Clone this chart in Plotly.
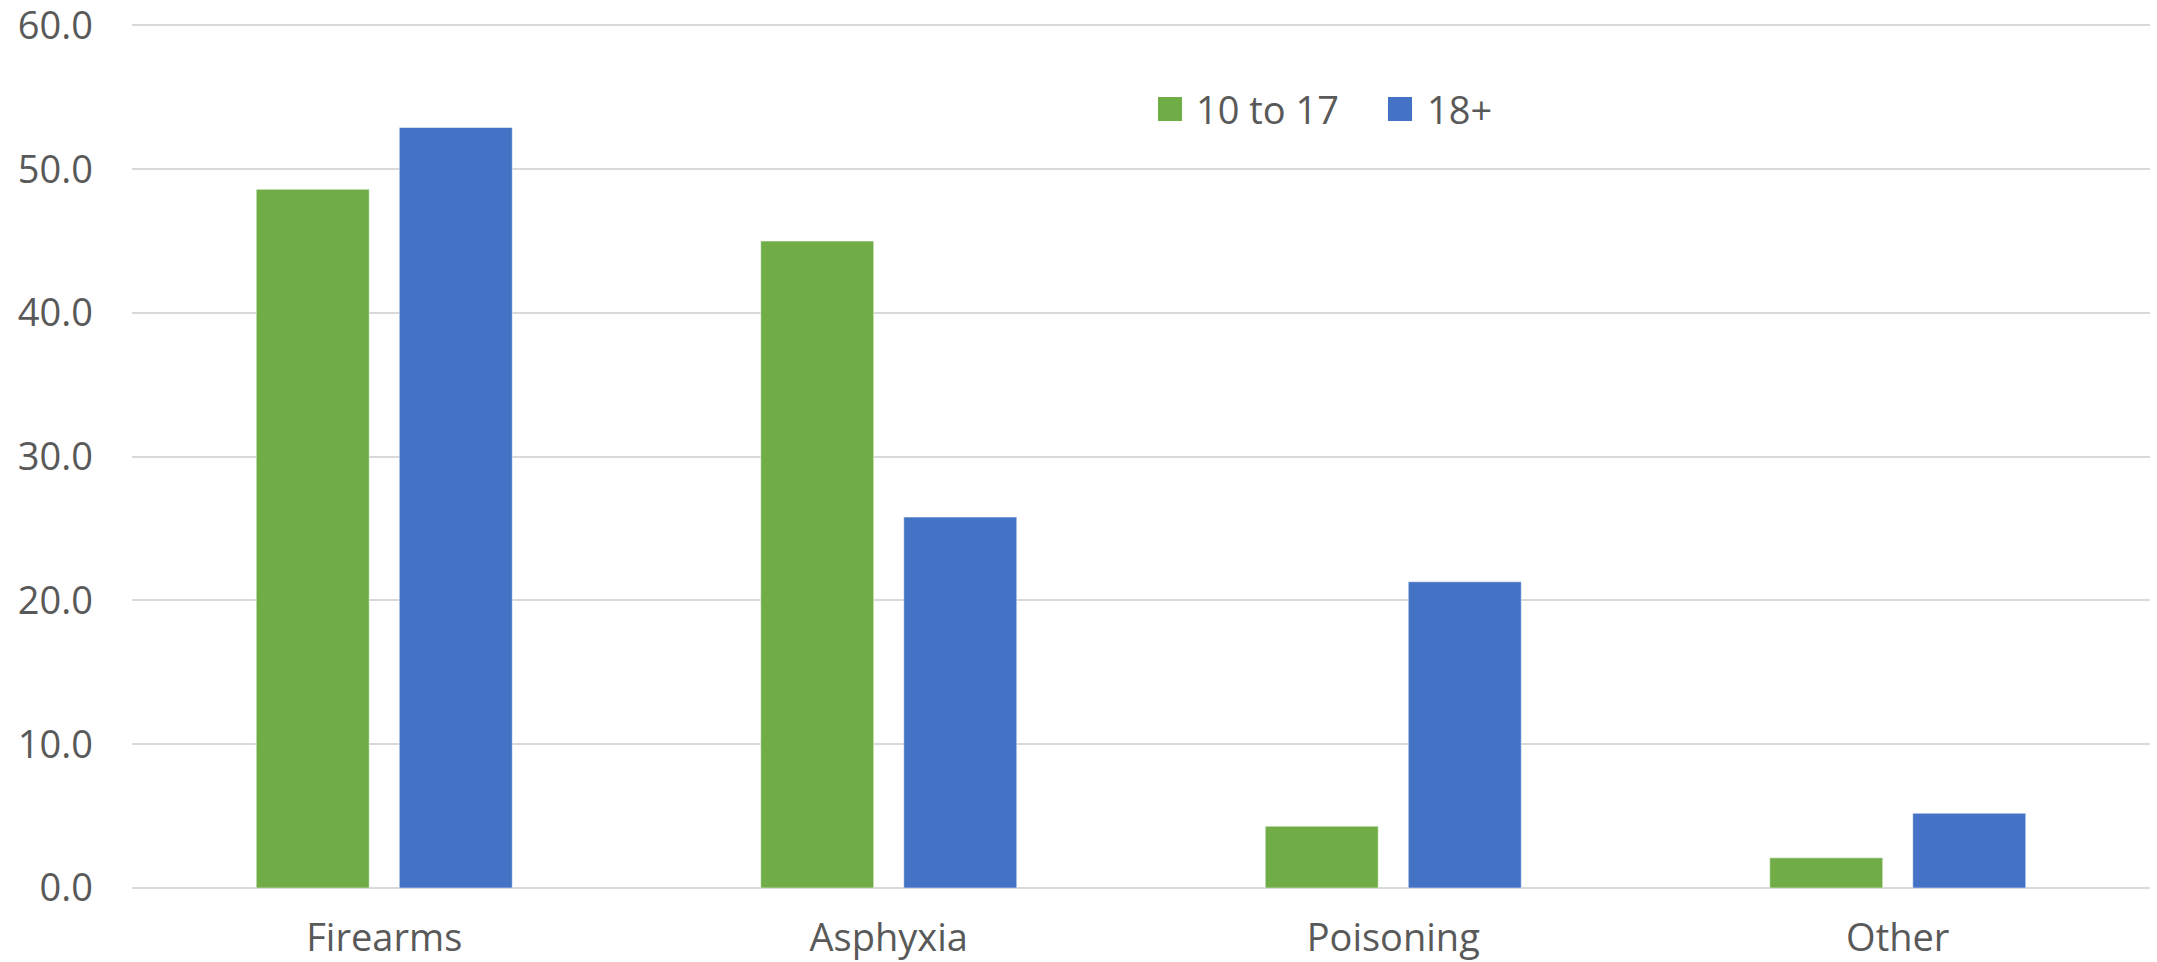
import plotly.graph_objects as go

categories = ["Firearms", "Asphyxia", "Poisoning", "Other"]
series_names = ["10 to 17", "18+"]
youth_values = [48.6, 45.0, 4.3, 2.1]
adult_values = [52.9, 25.8, 21.3, 5.2]
series_colors = ["#70AD47", "#4472C4"]
y_tick_vals = [0, 10, 20, 30, 40, 50, 60]
y_tick_text = ["0.0", "10.0", "20.0", "30.0", "40.0", "50.0", "60.0"]

W, H = 2157, 962
L, R, T, B = 132, 7, 24, 74
pw, ph = W - L - R, H - T - B
Y_MAX = 60.1

def px_x(px):
    return (px - L) / pw

def px_y(py):
    return (H - B - py) / ph

FONT = "Open Sans"
GRAY = "#595959"

fig = go.Figure()
for name, vals, col in zip(series_names, [youth_values, adult_values], series_colors):
    fig.add_trace(go.Bar(
        x=categories, y=vals, name=name,
        marker=dict(color=col, line=dict(color="rgba(255,255,255,0.5)", width=1)),
        showlegend=False,
    ))

# manual legend (square swatches + labels)
legend_pos = [(1158, 1194), (1388, 1425)]
for (sx, tx), name, col in zip(legend_pos, series_names, series_colors):
    fig.add_shape(type="rect", xref="paper", yref="paper",
                  x0=px_x(sx), x1=px_x(sx + 24), y0=px_y(121), y1=px_y(97),
                  fillcolor=col, line=dict(width=0))
    fig.add_annotation(xref="paper", yref="paper", x=px_x(tx), y=px_y(109),
                       text=name, showarrow=False, xanchor="left", yanchor="middle",
                       font=dict(family=FONT, size=38, color=GRAY))

fig.update_layout(
    width=W, height=H,
    margin=dict(l=L, r=R, t=T, b=B, autoexpand=False),
    paper_bgcolor="white", plot_bgcolor="white",
    barmode="group", bargap=0.433, bargroupgap=0.21,
    font=dict(family=FONT, size=38, color=GRAY),
    showlegend=False,
)
fig.update_yaxes(range=[0, Y_MAX], tickvals=y_tick_vals, ticktext=y_tick_text,
                 showgrid=True, gridcolor="#D9D9D9", gridwidth=2,
                 zeroline=True, zerolinecolor="#D9D9D9", zerolinewidth=2,
                 showline=False, ticks="", ticklabelstandoff=38,
                 ticklabeloverflow="allow",
                 tickfont=dict(family=FONT, size=38, color=GRAY), fixedrange=True)
fig.update_xaxes(showgrid=False, showline=False, ticks="", ticklabelstandoff=24,
                 ticklabeloverflow="allow",
                 tickfont=dict(family=FONT, size=38, color=GRAY), fixedrange=True)

fig.write_html("out.html", config={"displayModeBar": False})
